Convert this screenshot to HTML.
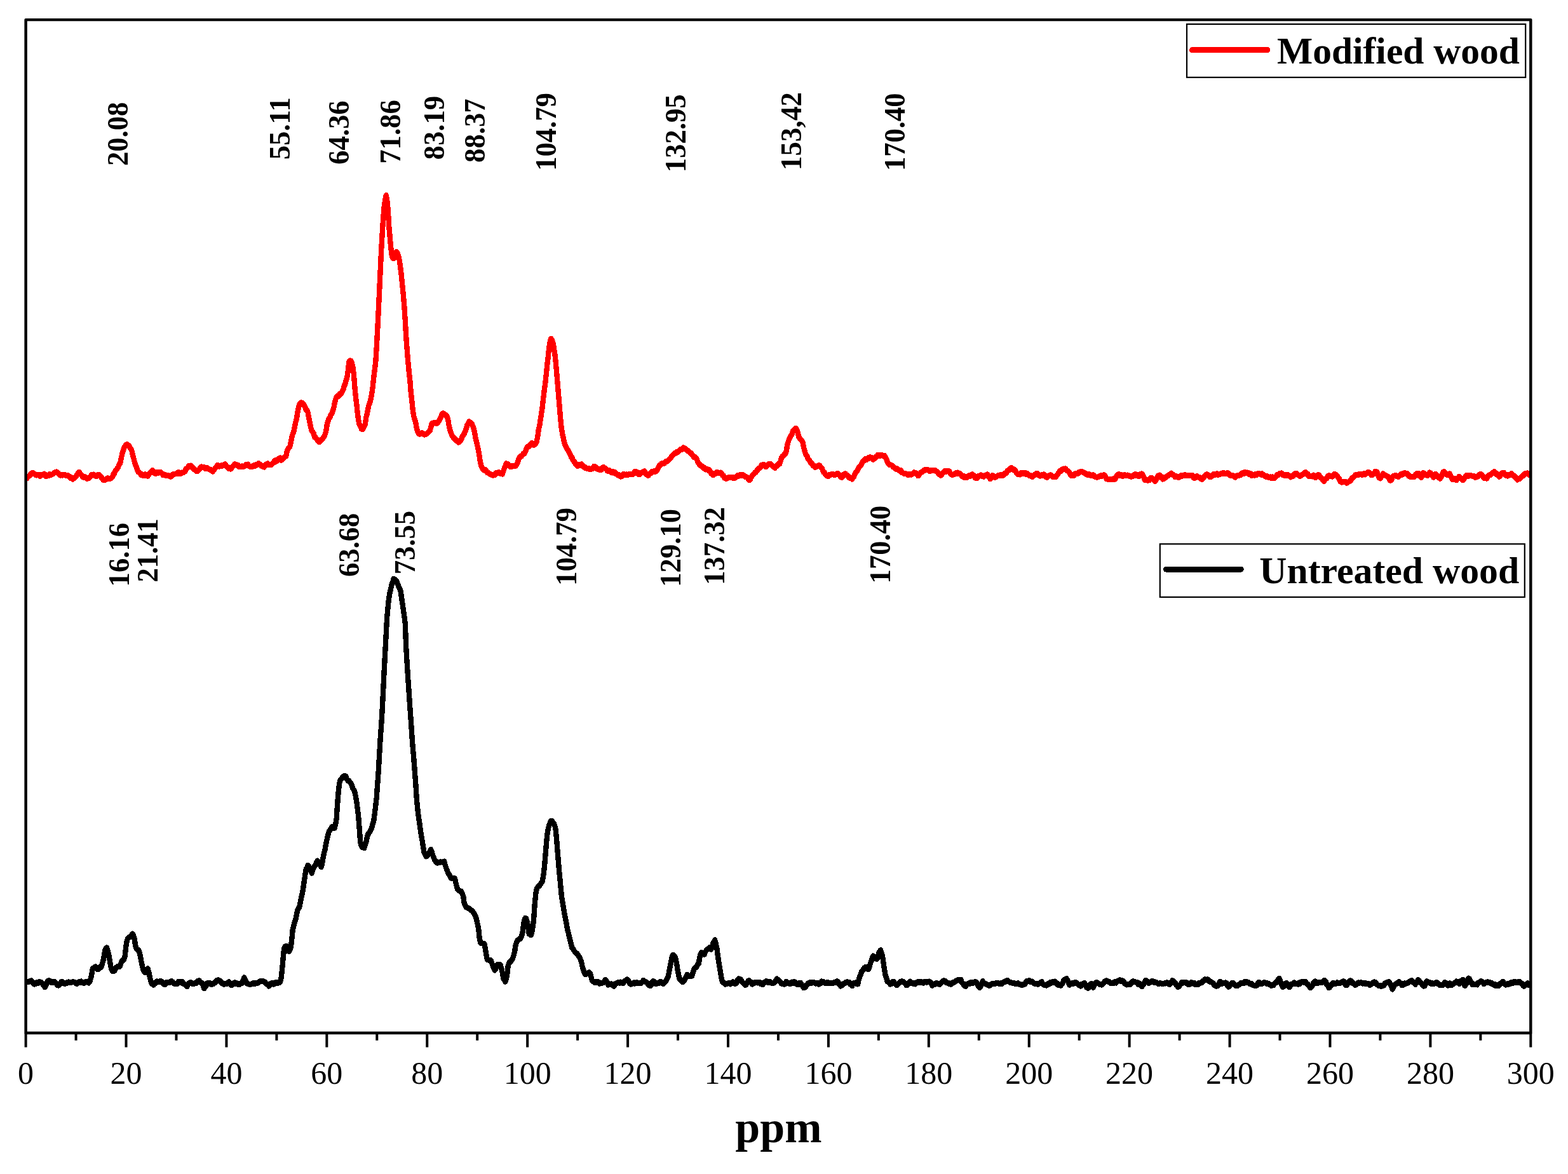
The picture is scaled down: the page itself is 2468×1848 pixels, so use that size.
<!DOCTYPE html>
<html lang="en"><head><meta charset="utf-8"><title>13C NMR spectra - modified vs untreated wood</title>
<style>
html,body{margin:0;padding:0;background:#fff;}
body{width:2468px;height:1848px;overflow:hidden;}
svg{display:block;}
.tick{font-family:"Liberation Serif","DejaVu Serif",serif;font-size:50px;fill:#000;text-anchor:middle;}
.pk{font-family:"Liberation Serif","DejaVu Serif",serif;font-weight:bold;font-size:46.5px;fill:#000;}
.lg{font-family:"Liberation Serif","DejaVu Serif",serif;font-weight:bold;font-size:59.5px;fill:#000;}
.xl{font-family:"Liberation Serif","DejaVu Serif",serif;font-weight:bold;font-size:70px;fill:#000;text-anchor:middle;}
.curve{shape-rendering:crispEdges;fill:none;stroke-width:9.0;stroke-linejoin:round;stroke-linecap:round;}
.ax{stroke:#000;stroke-width:4.45;fill:none;stroke-linejoin:round;}
.tk{stroke:#000;stroke-width:4;fill:none;}
</style></head><body>
<svg width="2468" height="1848" viewBox="0 0 2468 1848">
<rect x="0" y="0" width="2468" height="1848" fill="#fff"/>
<defs><clipPath id="plot"><rect x="40.6" y="31.1" width="2368.7" height="1594.9"/></clipPath></defs>
<g clip-path="url(#plot)"><g transform="scale(0.930 1)">
<polyline class="curve" stroke="#ff0000" points="43.8,753.0 45.4,753.1 47.1,750.6 48.7,749.6 50.3,748.7 51.9,746.2 53.5,745.0 55.1,744.2 56.7,745.2 58.3,746.2 60.0,747.2 61.6,748.1 63.2,747.6 64.8,747.3 66.4,748.2 68.0,749.6 69.6,747.2 71.2,747.0 72.9,747.5 74.5,745.9 76.1,748.3 77.7,749.9 79.3,748.0 80.9,748.4 82.5,748.9 84.2,746.6 85.8,747.0 87.4,747.1 89.0,746.4 90.6,745.3 92.2,743.9 93.8,743.8 95.4,742.9 97.1,743.8 98.7,744.7 100.3,747.1 101.9,748.1 103.5,747.3 105.1,748.1 106.7,747.5 108.3,748.0 110.0,747.8 111.6,748.7 113.2,748.1 114.8,748.4 116.4,749.9 118.0,750.2 119.6,752.5 121.2,751.9 122.9,754.2 124.5,753.3 126.1,751.9 127.7,750.8 129.3,748.8 130.9,746.8 132.5,744.2 134.2,743.2 135.8,745.7 137.4,747.0 139.0,749.2 140.6,751.3 142.2,751.5 143.8,750.8 145.4,752.2 147.1,753.5 148.7,752.6 150.3,753.0 151.9,751.3 153.5,749.4 155.1,747.1 156.7,747.9 158.3,747.0 160.0,748.3 161.6,749.3 163.2,749.6 164.8,748.4 166.4,747.1 168.0,747.7 169.6,749.3 171.2,751.2 172.9,752.9 174.5,755.3 176.1,755.7 177.7,755.7 179.3,754.7 180.9,753.2 182.5,752.8 184.2,753.3 185.8,753.4 187.4,752.7 189.0,751.8 190.6,750.0 192.2,745.4 193.8,744.9 195.4,740.9 197.1,738.9 198.7,737.3 200.3,734.6 201.9,730.7 203.5,729.1 205.1,721.4 206.7,714.9 208.3,709.4 210.0,705.1 211.6,702.5 213.2,700.1 214.8,699.4 216.4,700.8 218.0,700.8 219.6,703.9 221.2,706.2 222.9,709.2 224.5,715.5 226.1,721.1 227.7,726.9 229.3,732.2 230.9,735.3 232.5,740.1 234.2,743.2 235.8,743.6 237.4,745.3 239.0,747.4 240.6,746.9 242.2,748.5 243.8,748.7 245.4,746.8 247.1,748.1 248.7,748.8 250.3,749.3 251.9,747.0 253.5,744.6 255.1,743.8 256.7,741.8 258.3,740.5 260.0,742.4 261.6,744.5 263.2,745.7 264.8,743.7 266.4,744.4 268.0,744.3 269.6,743.3 271.2,743.1 272.9,744.0 274.5,745.8 276.1,748.0 277.7,746.8 279.3,747.3 280.9,748.6 282.5,748.2 284.2,748.7 285.8,748.6 287.4,750.0 289.0,750.2 290.6,748.7 292.2,747.0 293.8,746.4 295.4,746.1 297.1,746.0 298.7,745.8 300.3,744.1 301.9,743.6 303.5,745.7 305.1,745.6 306.7,744.0 308.3,744.2 310.0,743.8 311.6,742.5 313.2,741.8 314.8,738.2 316.4,737.1 318.0,735.4 319.6,733.5 321.2,734.2 322.9,732.9 324.5,735.6 326.1,735.6 327.7,737.8 329.3,739.3 330.9,740.1 332.5,742.0 334.2,741.6 335.8,739.6 337.4,739.0 339.0,736.1 340.6,734.9 342.2,735.3 343.8,735.6 345.4,735.5 347.1,737.5 348.7,737.6 350.3,736.4 351.9,737.7 353.5,738.1 355.1,739.3 356.7,739.5 358.3,740.7 360.0,742.2 361.6,739.9 363.2,738.4 364.8,736.0 366.4,734.5 368.0,732.1 369.6,733.7 371.2,734.2 372.9,733.4 374.5,732.6 376.1,733.1 377.7,732.8 379.3,732.2 380.9,730.6 382.5,733.1 384.2,734.8 385.8,735.5 387.4,737.7 389.0,737.2 390.6,738.1 392.2,736.1 393.8,733.9 395.4,732.7 397.1,730.7 398.7,731.4 400.3,731.7 401.9,733.1 403.5,732.4 405.1,734.9 406.7,734.3 408.3,734.7 410.0,733.8 411.6,734.6 413.2,734.2 414.8,733.1 416.4,731.5 418.0,732.2 419.6,730.9 421.2,733.6 422.9,734.2 424.5,734.4 426.1,734.6 427.7,734.3 429.3,732.8 430.9,733.5 432.5,731.8 434.2,732.3 435.8,731.5 437.4,729.3 439.0,730.7 440.6,730.9 442.2,733.2 443.8,733.8 445.4,734.6 447.1,735.2 448.7,731.8 450.3,731.6 451.9,730.1 453.5,729.8 455.1,731.9 456.7,731.5 458.3,732.0 460.0,730.9 461.6,728.9 463.2,728.5 464.8,725.3 466.4,724.7 468.0,726.0 469.6,724.3 471.2,722.4 472.9,721.8 474.5,720.9 476.1,724.3 477.7,723.6 479.3,722.1 480.9,720.5 482.5,718.8 484.2,718.0 485.8,710.0 487.4,706.5 489.0,704.8 490.6,703.1 492.2,696.5 493.8,688.2 495.4,683.1 497.1,679.7 498.7,671.7 500.3,664.6 501.9,660.0 503.5,650.0 505.1,642.6 506.7,637.1 508.3,634.7 510.0,633.8 511.6,634.6 513.2,635.6 514.8,637.6 516.4,640.7 518.0,645.5 519.6,645.4 521.2,649.7 522.9,658.7 524.5,665.9 526.1,673.4 527.7,678.2 529.3,680.0 530.9,682.1 532.5,688.3 534.2,688.7 535.8,691.0 537.4,692.8 539.0,695.0 540.6,695.9 542.2,694.3 543.8,692.2 545.4,691.5 547.1,689.2 548.7,686.7 550.3,683.4 551.9,678.5 553.5,668.4 555.1,662.8 556.7,659.4 558.3,657.1 560.0,652.7 561.6,650.8 563.2,647.1 564.8,642.4 566.4,634.3 568.0,628.7 569.6,624.8 571.2,623.2 572.9,623.5 574.5,620.6 576.1,621.1 577.7,619.3 579.3,615.4 580.9,613.6 582.5,607.4 584.2,604.7 585.8,598.4 587.4,593.9 589.0,583.3 590.6,569.9 592.2,567.9 593.8,568.2 595.4,570.5 597.1,577.6 598.7,588.2 600.3,607.8 601.9,623.8 603.5,635.7 605.1,650.2 606.7,661.1 608.3,668.2 610.0,670.9 611.6,674.8 613.2,675.9 614.8,674.4 616.4,670.3 618.0,668.5 619.6,657.1 621.2,651.5 622.9,643.7 624.5,636.6 626.1,633.6 627.7,627.8 629.3,619.0 630.9,608.7 632.5,594.4 634.2,581.8 635.8,569.1 637.4,545.9 639.0,518.1 640.6,487.7 642.2,456.4 643.8,423.8 645.4,392.7 647.1,365.5 648.7,341.7 650.3,324.1 651.9,314.5 653.5,307.3 655.1,315.7 656.7,330.0 658.3,355.8 660.0,374.0 661.6,390.3 663.2,402.2 664.8,406.2 666.4,406.7 668.0,402.2 669.6,400.0 671.2,396.3 672.9,399.0 674.5,403.4 676.1,410.3 677.7,420.9 679.3,433.2 680.9,448.7 682.5,463.3 684.2,482.3 685.8,504.5 687.4,530.8 689.0,551.3 690.6,569.7 692.2,584.9 693.8,598.1 695.4,616.9 697.1,631.0 698.7,646.3 700.3,655.2 701.9,660.0 703.5,665.2 705.1,673.8 706.7,678.8 708.3,682.1 710.0,683.4 711.6,682.4 713.2,681.7 714.8,681.7 716.4,682.5 718.0,684.1 719.6,683.0 721.2,683.1 722.9,682.4 724.5,680.9 726.1,679.5 727.7,677.6 729.3,672.6 730.9,666.5 732.5,667.2 734.2,665.4 735.8,665.5 737.4,665.8 739.0,666.6 740.6,665.3 742.2,663.6 743.8,661.3 745.4,658.3 747.1,654.2 748.7,650.9 750.3,650.7 751.9,651.9 753.5,652.6 755.1,654.7 756.7,655.4 758.3,661.1 760.0,670.7 761.6,677.1 763.2,680.8 764.8,685.0 766.4,687.2 768.0,689.4 769.6,690.6 771.2,692.2 772.9,693.8 774.5,694.2 776.1,696.4 777.7,695.5 779.3,694.1 780.9,691.3 782.5,687.2 784.2,685.2 785.8,682.5 787.4,678.7 789.0,675.3 790.6,669.4 792.2,667.0 793.8,663.7 795.4,664.9 797.1,665.9 798.7,667.1 800.3,670.9 801.9,675.2 803.5,682.4 805.1,690.8 806.7,696.4 808.3,702.9 810.0,710.1 811.6,719.6 813.2,728.7 814.8,734.6 816.4,737.0 818.0,739.7 819.6,740.2 821.2,739.4 822.9,740.8 824.5,743.8 826.1,744.2 827.7,744.9 829.3,746.4 830.9,746.9 832.5,747.9 834.2,748.1 835.8,747.3 837.4,747.5 839.0,744.7 840.6,744.7 842.2,745.0 843.8,743.5 845.4,744.9 847.1,745.6 848.7,745.2 850.3,746.2 851.9,741.7 853.5,737.3 855.1,733.6 856.7,729.6 858.3,730.5 860.0,730.7 861.6,733.3 863.2,734.4 864.8,734.8 866.4,733.4 868.0,733.6 869.6,733.2 871.2,733.9 872.9,733.1 874.5,730.8 876.1,728.2 877.7,723.3 879.3,719.6 880.9,718.1 882.5,718.3 884.2,716.2 885.8,714.0 887.4,714.1 889.0,711.4 890.6,707.0 892.2,703.9 893.8,703.0 895.4,702.7 897.1,700.5 898.7,699.5 900.3,697.6 901.9,698.6 903.5,700.4 905.1,699.9 906.7,697.8 908.3,695.0 910.0,687.3 911.6,676.1 913.2,669.6 914.8,660.4 916.4,650.6 918.0,640.4 919.6,626.9 921.2,614.5 922.9,602.5 924.5,588.9 926.1,574.2 927.7,562.2 929.3,546.4 930.9,538.5 932.5,533.2 934.2,535.6 935.8,539.1 937.4,547.4 939.0,557.3 940.6,570.5 942.2,587.4 943.8,604.8 945.4,622.8 947.1,641.8 948.7,660.0 950.3,674.3 951.9,683.1 953.5,689.5 955.1,696.9 956.7,701.3 958.3,703.9 960.0,707.1 961.6,709.0 963.2,712.2 964.8,714.7 966.4,718.7 968.0,719.9 969.6,724.5 971.2,726.1 972.9,727.8 974.5,731.0 976.1,732.2 977.7,733.5 979.3,731.7 980.9,732.6 982.5,732.0 984.2,730.8 985.8,732.7 987.4,734.8 989.0,734.7 990.6,736.8 992.2,736.9 993.8,737.8 995.4,737.5 997.1,738.3 998.7,738.0 1000.3,738.2 1001.9,738.0 1003.5,737.3 1005.1,734.2 1006.7,734.4 1008.3,735.3 1010.0,737.2 1011.6,738.8 1013.2,738.1 1014.8,739.4 1016.4,739.4 1018.0,739.3 1019.6,736.8 1021.2,735.5 1022.9,736.7 1024.5,737.6 1026.1,738.9 1027.7,741.1 1029.3,741.5 1030.9,740.6 1032.5,742.3 1034.2,743.3 1035.8,744.0 1037.4,742.1 1039.0,744.5 1040.6,743.3 1042.2,745.6 1043.8,746.2 1045.4,747.9 1047.1,748.2 1048.7,747.9 1050.3,750.2 1051.9,748.9 1053.5,749.2 1055.1,746.3 1056.7,746.8 1058.3,747.9 1060.0,746.9 1061.6,748.0 1063.2,747.3 1064.8,746.5 1066.4,747.0 1068.0,746.7 1069.6,746.7 1071.2,746.6 1072.9,745.1 1074.5,742.4 1076.1,743.6 1077.7,742.8 1079.3,743.7 1080.9,746.6 1082.5,747.0 1084.2,744.8 1085.8,743.9 1087.4,743.9 1089.0,742.4 1090.6,741.8 1092.2,743.9 1093.8,746.9 1095.4,746.5 1097.1,748.7 1098.7,746.8 1100.3,744.8 1101.9,745.1 1103.5,742.4 1105.1,742.4 1106.7,742.3 1108.3,741.1 1110.0,742.1 1111.6,741.1 1113.2,737.8 1114.8,735.2 1116.4,732.4 1118.0,731.6 1119.6,729.8 1121.2,729.9 1122.9,729.9 1124.5,729.3 1126.1,726.8 1127.7,726.6 1129.3,726.0 1130.9,724.7 1132.5,723.1 1134.2,721.4 1135.8,720.3 1137.4,717.5 1139.0,716.1 1140.6,715.0 1142.2,713.3 1143.8,713.3 1145.4,711.6 1147.1,711.8 1148.7,710.6 1150.3,708.4 1151.9,707.5 1153.5,708.0 1155.1,706.7 1156.7,704.8 1158.3,706.0 1160.0,706.2 1161.6,708.0 1163.2,708.9 1164.8,710.3 1166.4,710.9 1168.0,712.7 1169.6,713.5 1171.2,716.0 1172.9,717.2 1174.5,720.0 1176.1,719.1 1177.7,720.9 1179.3,722.8 1180.9,727.0 1182.5,729.6 1184.2,731.3 1185.8,733.0 1187.4,733.3 1189.0,734.9 1190.6,736.7 1192.2,736.3 1193.8,739.1 1195.4,738.7 1197.1,738.7 1198.7,740.6 1200.3,739.6 1201.9,741.7 1203.5,745.2 1205.1,745.5 1206.7,747.9 1208.3,745.6 1210.0,745.9 1211.6,745.3 1213.2,743.5 1214.8,743.7 1216.4,744.4 1218.0,744.8 1219.6,744.0 1221.2,745.0 1222.9,748.3 1224.5,748.9 1226.1,752.3 1227.7,752.8 1229.3,753.6 1230.9,752.6 1232.5,751.7 1234.2,751.0 1235.8,751.2 1237.4,751.3 1239.0,751.9 1240.6,752.4 1242.2,751.4 1243.8,752.4 1245.4,750.9 1247.1,749.5 1248.7,748.4 1250.3,749.1 1251.9,748.4 1253.5,747.1 1255.1,748.4 1256.7,747.3 1258.3,748.2 1260.0,749.3 1261.6,750.7 1263.2,750.7 1264.8,751.8 1266.4,754.2 1268.0,755.8 1269.6,754.7 1271.2,751.2 1272.9,749.0 1274.5,746.9 1276.1,745.9 1277.7,743.7 1279.3,743.5 1280.9,740.9 1282.5,739.2 1284.2,737.5 1285.8,736.5 1287.4,734.9 1289.0,732.2 1290.6,731.7 1292.2,731.3 1293.8,733.3 1295.4,734.3 1297.1,734.4 1298.7,732.2 1300.3,731.5 1301.9,730.1 1303.5,730.2 1305.1,731.6 1306.7,732.3 1308.3,734.6 1310.0,735.2 1311.6,736.3 1313.2,734.2 1314.8,733.7 1316.4,731.3 1318.0,729.6 1319.6,730.1 1321.2,725.2 1322.9,720.4 1324.5,718.2 1326.1,717.1 1327.7,715.1 1329.3,713.9 1330.9,710.2 1332.5,700.4 1334.2,694.9 1335.8,690.7 1337.4,687.6 1339.0,685.1 1340.6,683.1 1342.2,678.2 1343.8,677.7 1345.4,675.3 1347.1,674.2 1348.7,676.8 1350.3,681.3 1351.9,687.6 1353.5,690.2 1355.1,691.6 1356.7,693.6 1358.3,695.3 1360.0,703.2 1361.6,709.1 1363.2,713.7 1364.8,716.7 1366.4,719.1 1368.0,723.1 1369.6,724.0 1371.2,727.4 1372.9,728.5 1374.5,730.3 1376.1,732.9 1377.7,733.1 1379.3,735.3 1380.9,735.1 1382.5,733.9 1384.2,733.4 1385.8,732.3 1387.4,733.3 1389.0,735.5 1390.6,736.4 1392.2,739.5 1393.8,743.1 1395.4,743.6 1397.1,746.8 1398.7,748.4 1400.3,749.1 1401.9,749.5 1403.5,747.2 1405.1,747.3 1406.7,747.0 1408.3,746.2 1410.0,746.8 1411.6,747.7 1413.2,747.5 1414.8,746.5 1416.4,746.7 1418.0,745.0 1419.6,746.8 1421.2,748.4 1422.9,750.3 1424.5,751.7 1426.1,750.6 1427.7,747.3 1429.3,746.1 1430.9,745.7 1432.5,747.9 1434.2,748.0 1435.8,750.1 1437.4,752.0 1439.0,751.4 1440.6,752.8 1442.2,754.0 1443.8,752.0 1445.4,749.9 1447.1,745.8 1448.7,743.4 1450.3,741.9 1451.9,738.7 1453.5,735.9 1455.1,734.1 1456.7,732.5 1458.3,730.5 1460.0,727.0 1461.6,724.9 1463.2,724.8 1464.8,722.3 1466.4,723.6 1468.0,721.7 1469.6,720.8 1471.2,721.3 1472.9,719.7 1474.5,720.2 1476.1,721.4 1477.7,723.2 1479.3,721.9 1480.9,721.4 1482.5,719.2 1484.2,718.4 1485.8,716.1 1487.4,717.5 1489.0,717.9 1490.6,716.4 1492.2,716.5 1493.8,717.1 1495.4,717.9 1497.1,717.3 1498.7,720.1 1500.3,723.0 1501.9,727.3 1503.5,729.5 1505.1,731.5 1506.7,731.8 1508.3,731.9 1510.0,733.1 1511.6,734.8 1513.2,735.7 1514.8,737.4 1516.4,738.1 1518.0,737.8 1519.6,738.8 1521.2,740.3 1522.9,740.1 1524.5,740.5 1526.1,743.7 1527.7,744.0 1529.3,745.0 1530.9,746.0 1532.5,745.8 1534.2,745.9 1535.8,747.1 1537.4,747.6 1539.0,746.9 1540.6,746.4 1542.2,747.2 1543.8,746.2 1545.4,745.2 1547.1,743.8 1548.7,745.0 1550.3,744.9 1551.9,745.9 1553.5,748.7 1555.1,748.3 1556.7,745.7 1558.3,743.8 1560.0,743.2 1561.6,742.6 1563.2,740.4 1564.8,740.4 1566.4,739.1 1568.0,739.8 1569.6,739.3 1571.2,739.8 1572.9,741.3 1574.5,741.7 1576.1,740.6 1577.7,740.4 1579.3,741.0 1580.9,740.2 1582.5,740.5 1584.2,742.0 1585.8,742.1 1587.4,744.1 1589.0,746.6 1590.6,746.0 1592.2,748.3 1593.8,746.8 1595.4,745.1 1597.1,743.1 1598.7,741.7 1600.3,741.7 1601.9,742.4 1603.5,741.3 1605.1,742.0 1606.7,741.8 1608.3,744.8 1610.0,746.5 1611.6,747.6 1613.2,747.2 1614.8,746.6 1616.4,745.4 1618.0,744.5 1619.6,745.3 1621.2,744.0 1622.9,745.4 1624.5,745.4 1626.1,746.7 1627.7,749.1 1629.3,750.3 1630.9,749.1 1632.5,751.6 1634.2,751.8 1635.8,750.4 1637.4,751.1 1639.0,749.5 1640.6,748.7 1642.2,749.4 1643.8,748.2 1645.4,746.7 1647.1,749.2 1648.7,748.7 1650.3,752.0 1651.9,752.3 1653.5,752.7 1655.1,750.2 1656.7,749.3 1658.3,749.2 1660.0,747.9 1661.6,749.4 1663.2,749.2 1664.8,750.4 1666.4,748.8 1668.0,748.0 1669.6,747.6 1671.2,746.8 1672.9,750.1 1674.5,750.6 1676.1,753.9 1677.7,751.3 1679.3,748.3 1680.9,749.1 1682.5,751.2 1684.2,751.3 1685.8,750.8 1687.4,749.6 1689.0,748.7 1690.6,748.5 1692.2,748.5 1693.8,747.5 1695.4,747.2 1697.1,748.6 1698.7,747.5 1700.3,745.4 1701.9,744.9 1703.5,744.4 1705.1,741.1 1706.7,740.2 1708.3,740.1 1710.0,737.2 1711.6,736.4 1713.2,737.3 1714.8,739.7 1716.4,739.3 1718.0,740.3 1719.6,743.1 1721.2,745.2 1722.9,746.8 1724.5,746.3 1726.1,747.0 1727.7,744.7 1729.3,745.0 1730.9,744.9 1732.5,745.4 1734.2,744.7 1735.8,744.7 1737.4,746.9 1739.0,745.7 1740.6,747.0 1742.2,748.9 1743.8,748.4 1745.4,749.4 1747.1,750.6 1748.7,749.2 1750.3,747.7 1751.9,747.6 1753.5,745.7 1755.1,745.2 1756.7,746.5 1758.3,748.3 1760.0,749.2 1761.6,748.9 1763.2,747.6 1764.8,748.5 1766.4,746.8 1768.0,749.0 1769.6,748.6 1771.2,751.4 1772.9,751.1 1774.5,749.5 1776.1,748.3 1777.7,747.7 1779.3,748.4 1780.9,749.3 1782.5,750.8 1784.2,750.5 1785.8,751.0 1787.4,750.1 1789.0,747.4 1790.6,746.5 1792.2,743.5 1793.8,741.6 1795.4,741.8 1797.1,739.5 1798.7,738.7 1800.3,738.0 1801.9,738.3 1803.5,737.8 1805.1,740.5 1806.7,741.0 1808.3,742.0 1810.0,744.0 1811.6,747.4 1813.2,748.9 1814.8,747.9 1816.4,747.2 1818.0,748.3 1819.6,745.6 1821.2,745.3 1822.9,745.9 1824.5,745.4 1826.1,743.3 1827.7,743.0 1829.3,742.2 1830.9,742.4 1832.5,743.1 1834.2,744.0 1835.8,745.0 1837.4,746.1 1839.0,745.8 1840.6,747.7 1842.2,747.1 1843.8,746.7 1845.4,748.3 1847.1,748.9 1848.7,748.2 1850.3,747.7 1851.9,749.7 1853.5,750.3 1855.1,751.0 1856.7,751.0 1858.3,751.0 1860.0,750.0 1861.6,749.3 1863.2,748.4 1864.8,749.7 1866.4,748.6 1868.0,747.6 1869.6,748.5 1871.2,750.8 1872.9,753.9 1874.5,754.3 1876.1,754.1 1877.7,754.6 1879.3,754.3 1880.9,754.9 1882.5,754.2 1884.2,753.7 1885.8,754.6 1887.4,753.9 1889.0,750.5 1890.6,748.7 1892.2,747.3 1893.8,746.5 1895.4,748.4 1897.1,748.6 1898.7,747.7 1900.3,749.4 1901.9,748.5 1903.5,747.5 1905.1,748.2 1906.7,748.1 1908.3,748.0 1910.0,748.7 1911.6,749.5 1913.2,749.3 1914.8,750.3 1916.4,749.2 1918.0,749.2 1919.6,747.6 1921.2,746.6 1922.9,748.5 1924.5,747.3 1926.1,748.2 1927.7,750.0 1929.3,748.4 1930.9,746.3 1932.5,745.9 1934.2,747.6 1935.8,751.5 1937.4,755.3 1939.0,754.3 1940.6,755.7 1942.2,756.3 1943.8,756.0 1945.4,755.8 1947.1,752.6 1948.7,752.2 1950.3,753.4 1951.9,754.8 1953.5,755.9 1955.1,757.6 1956.7,755.4 1958.3,752.5 1960.0,748.9 1961.6,748.5 1963.2,748.0 1964.8,751.4 1966.4,750.7 1968.0,754.2 1969.6,753.8 1971.2,751.6 1972.9,751.7 1974.5,750.4 1976.1,749.1 1977.7,748.1 1979.3,747.1 1980.9,746.4 1982.5,744.9 1984.2,747.4 1985.8,747.6 1987.4,748.4 1989.0,750.9 1990.6,749.6 1992.2,750.3 1993.8,751.1 1995.4,751.3 1997.1,749.7 1998.7,748.5 2000.3,749.3 2001.9,748.8 2003.5,748.7 2005.1,747.5 2006.7,748.8 2008.3,748.7 2010.0,748.9 2011.6,748.7 2013.2,748.5 2014.8,748.2 2016.4,748.9 2018.0,748.6 2019.6,751.1 2021.2,752.6 2022.9,752.0 2024.5,749.8 2026.1,749.6 2027.7,750.9 2029.3,751.7 2030.9,751.6 2032.5,753.6 2034.2,754.5 2035.8,753.6 2037.4,751.5 2039.0,749.2 2040.6,748.2 2042.2,746.7 2043.8,747.0 2045.4,747.9 2047.1,750.7 2048.7,750.9 2050.3,749.1 2051.9,748.9 2053.5,746.4 2055.1,746.4 2056.7,747.2 2058.3,746.8 2060.0,745.7 2061.6,747.4 2063.2,746.6 2064.8,746.4 2066.4,745.6 2068.0,745.9 2069.6,744.4 2071.2,744.7 2072.9,745.5 2074.5,745.5 2076.1,745.5 2077.7,744.5 2079.3,745.3 2080.9,747.5 2082.5,748.3 2084.2,748.9 2085.8,748.1 2087.4,748.9 2089.0,750.0 2090.6,751.2 2092.2,749.2 2093.8,748.7 2095.4,748.2 2097.1,748.7 2098.7,747.6 2100.3,747.7 2101.9,745.1 2103.5,744.4 2105.1,745.6 2106.7,743.2 2108.3,744.1 2110.0,744.2 2111.6,744.0 2113.2,744.9 2114.8,746.8 2116.4,745.7 2118.0,748.6 2119.6,747.0 2121.2,747.6 2122.9,748.3 2124.5,746.5 2126.1,748.0 2127.7,746.2 2129.3,745.2 2130.9,745.4 2132.5,746.3 2134.2,747.1 2135.8,745.8 2137.4,746.9 2139.0,748.3 2140.6,749.5 2142.2,750.3 2143.8,749.6 2145.4,750.0 2147.1,751.5 2148.7,751.9 2150.3,750.9 2151.9,752.6 2153.5,750.8 2155.1,752.5 2156.7,752.6 2158.3,750.9 2160.0,750.0 2161.6,747.2 2163.2,747.8 2164.8,746.2 2166.4,745.0 2168.0,745.0 2169.6,744.9 2171.2,747.6 2172.9,747.8 2174.5,748.8 2176.1,747.6 2177.7,748.6 2179.3,747.5 2180.9,749.0 2182.5,749.1 2184.2,751.0 2185.8,750.3 2187.4,749.5 2189.0,749.3 2190.6,745.9 2192.2,746.2 2193.8,745.2 2195.4,746.9 2197.1,747.7 2198.7,748.3 2200.3,749.5 2201.9,748.3 2203.5,747.1 2205.1,746.9 2206.7,744.9 2208.3,745.7 2210.0,743.5 2211.6,746.5 2213.2,746.0 2214.8,749.5 2216.4,748.9 2218.0,749.9 2219.6,749.5 2221.2,750.0 2222.9,747.9 2224.5,749.2 2226.1,751.8 2227.7,749.7 2229.3,748.6 2230.9,747.5 2232.5,748.2 2234.2,751.5 2235.8,751.8 2237.4,753.3 2239.0,755.8 2240.6,757.5 2242.2,755.6 2243.8,753.4 2245.4,753.2 2247.1,749.8 2248.7,748.6 2250.3,748.7 2251.9,749.9 2253.5,749.3 2255.1,750.1 2256.7,748.6 2258.3,746.5 2260.0,746.6 2261.6,747.9 2263.2,749.3 2264.8,751.4 2266.4,753.2 2268.0,757.3 2269.6,758.7 2271.2,759.1 2272.9,758.6 2274.5,758.1 2276.1,758.0 2277.7,758.9 2279.3,760.4 2280.9,759.3 2282.5,758.4 2284.2,757.4 2285.8,756.7 2287.4,753.8 2289.0,752.2 2290.6,751.3 2292.2,749.5 2293.8,747.9 2295.4,747.1 2297.1,747.4 2298.7,746.8 2300.3,747.1 2301.9,746.8 2303.5,746.7 2305.1,747.6 2306.7,747.2 2308.3,745.5 2310.0,746.9 2311.6,745.4 2313.2,745.1 2314.8,743.4 2316.4,744.9 2318.0,744.0 2319.6,745.9 2321.2,747.8 2322.9,747.2 2324.5,746.1 2326.1,745.6 2327.7,742.1 2329.3,742.5 2330.9,743.3 2332.5,748.4 2334.2,752.1 2335.8,753.0 2337.4,751.2 2339.0,748.9 2340.6,745.6 2342.2,746.7 2343.8,747.8 2345.4,748.5 2347.1,749.5 2348.7,750.3 2350.3,751.6 2351.9,755.5 2353.5,756.3 2355.1,755.7 2356.7,751.3 2358.3,749.2 2360.0,749.0 2361.6,748.3 2363.2,749.3 2364.8,749.4 2366.4,750.6 2368.0,749.2 2369.6,747.7 2371.2,746.3 2372.9,747.1 2374.5,745.2 2376.1,746.0 2377.7,744.3 2379.3,745.4 2380.9,745.0 2382.5,745.9 2384.2,749.4 2385.8,749.0 2387.4,750.8 2389.0,750.1 2390.6,750.0 2392.2,750.0 2393.8,750.5 2395.4,747.4 2397.1,747.8 2398.7,745.0 2400.3,745.1 2401.9,749.2 2403.5,749.5 2405.1,751.5 2406.7,749.2 2408.3,744.5 2410.0,745.1 2411.6,746.3 2413.2,748.0 2414.8,747.9 2416.4,748.4 2418.0,747.2 2419.6,743.8 2421.2,744.7 2422.9,747.5 2424.5,749.1 2426.1,751.3 2427.7,749.9 2429.3,746.4 2430.9,746.9 2432.5,749.3 2434.2,751.3 2435.8,752.0 2437.4,753.4 2439.0,750.8 2440.6,746.9 2442.2,743.8 2443.8,742.4 2445.4,743.6 2447.1,745.8 2448.7,747.2 2450.3,747.0 2451.9,747.2 2453.5,745.6 2455.1,748.5 2456.7,752.3 2458.3,754.4 2460.0,753.4 2461.6,754.9 2463.2,753.7 2464.8,755.9 2466.4,753.0 2468.0,752.1 2469.6,750.3 2471.2,751.6 2472.9,752.7 2474.5,754.9 2476.1,755.7 2477.7,754.4 2479.3,751.4 2480.9,749.4 2482.5,748.2 2484.2,748.6 2485.8,749.4 2487.4,748.5 2489.0,748.7 2490.6,749.0 2492.2,749.0 2493.8,749.2 2495.4,749.8 2497.1,751.5 2498.7,751.0 2500.3,750.6 2501.9,749.5 2503.5,747.7 2505.1,746.5 2506.7,746.5 2508.3,747.8 2510.0,750.1 2511.6,752.7 2513.2,753.0 2514.8,752.4 2516.4,753.2 2518.0,750.2 2519.6,748.0 2521.2,747.8 2522.9,747.3 2524.5,745.8 2526.1,744.1 2527.7,744.2 2529.3,742.5 2530.9,745.0 2532.5,746.8 2534.2,746.0 2535.8,748.5 2537.4,750.2 2539.0,749.1 2540.6,746.5 2542.2,744.7 2543.8,744.4 2545.4,744.3 2547.1,747.6 2548.7,748.2 2550.3,748.4 2551.9,749.1 2553.5,747.2 2555.1,747.3 2556.7,746.7 2558.3,745.3 2560.0,747.9 2561.6,749.0 2563.2,749.3 2564.8,751.4 2566.4,752.5 2568.0,755.1 2569.6,754.0 2571.2,753.8 2572.9,752.5 2574.5,751.6 2576.1,749.4 2577.7,749.3 2579.3,746.6 2580.9,746.4 2582.5,745.1 2584.2,745.0 2585.8,744.9 2587.4,746.8 2589.0,747.8"/>
<polyline class="curve" stroke="#000000" points="43.7,1545.8 45.4,1545.0 47.0,1545.6 48.6,1545.7 50.2,1544.6 51.8,1544.4 53.4,1543.8 55.0,1546.1 56.7,1548.5 58.3,1549.2 59.9,1548.6 61.5,1546.7 63.1,1548.0 64.7,1547.5 66.3,1545.4 67.9,1546.8 69.6,1546.1 71.2,1547.5 72.8,1549.8 74.4,1551.3 76.0,1553.8 77.6,1551.5 79.2,1547.3 80.8,1544.6 82.5,1543.6 84.1,1544.1 85.7,1546.2 87.3,1546.5 88.9,1545.5 90.5,1546.1 92.1,1545.5 93.7,1546.5 95.4,1548.4 97.0,1550.6 98.6,1551.2 100.2,1550.7 101.8,1549.0 103.4,1545.9 105.0,1545.1 106.7,1547.4 108.3,1546.9 109.9,1548.6 111.5,1547.9 113.1,1547.6 114.7,1546.1 116.3,1545.8 117.9,1546.7 119.6,1546.8 121.2,1546.4 122.8,1545.7 124.4,1545.9 126.0,1546.3 127.6,1547.0 129.2,1548.1 130.8,1548.3 132.5,1546.1 134.1,1545.4 135.7,1546.6 137.3,1545.0 138.9,1546.3 140.5,1546.9 142.1,1547.8 143.7,1546.6 145.4,1545.2 147.0,1545.1 148.6,1546.1 150.2,1547.1 151.8,1545.4 153.4,1540.6 155.0,1535.1 156.7,1525.2 158.3,1523.8 159.9,1522.7 161.5,1521.8 163.1,1524.3 164.7,1525.5 166.3,1525.6 167.9,1523.6 169.6,1522.2 171.2,1522.5 172.8,1517.6 174.4,1512.8 176.0,1505.3 177.6,1496.3 179.2,1493.1 180.8,1491.9 182.5,1497.1 184.1,1502.8 185.7,1511.8 187.3,1520.9 188.9,1526.3 190.5,1528.6 192.1,1528.8 193.7,1528.1 195.4,1524.5 197.0,1522.7 198.6,1521.7 200.2,1521.8 201.8,1521.5 203.4,1519.9 205.0,1515.6 206.7,1511.9 208.3,1512.2 209.9,1509.8 211.5,1505.2 213.1,1490.8 214.7,1481.4 216.3,1477.2 217.9,1475.9 219.6,1475.1 221.2,1474.2 222.8,1471.9 224.4,1469.9 226.0,1473.2 227.6,1477.9 229.2,1489.0 230.8,1492.5 232.5,1494.8 234.1,1495.0 235.7,1498.5 237.3,1504.5 238.9,1512.4 240.5,1519.6 242.1,1525.4 243.7,1529.0 245.4,1530.5 247.0,1530.1 248.6,1526.0 250.2,1524.8 251.8,1530.3 253.4,1537.2 255.0,1543.9 256.7,1547.7 258.3,1549.1 259.9,1550.4 261.5,1547.7 263.1,1547.8 264.7,1544.9 266.3,1545.0 267.9,1546.0 269.6,1544.9 271.2,1545.5 272.8,1544.8 274.4,1545.3 276.0,1548.0 277.6,1549.0 279.2,1549.9 280.8,1547.7 282.5,1546.1 284.1,1546.7 285.7,1546.5 287.3,1546.6 288.9,1545.1 290.5,1544.4 292.1,1545.8 293.7,1547.5 295.4,1548.6 297.0,1548.5 298.6,1548.8 300.2,1548.4 301.8,1545.3 303.4,1545.8 305.0,1546.3 306.7,1545.1 308.3,1545.3 309.9,1548.3 311.5,1548.7 313.1,1549.5 314.7,1551.2 316.3,1553.0 317.9,1550.2 319.6,1547.7 321.2,1547.5 322.8,1546.3 324.4,1547.7 326.0,1548.9 327.6,1548.1 329.2,1548.2 330.8,1546.9 332.5,1547.5 334.1,1544.4 335.7,1545.3 337.3,1543.7 338.9,1545.5 340.5,1547.0 342.1,1547.4 343.7,1550.4 345.4,1555.9 347.0,1553.1 348.6,1551.9 350.2,1548.0 351.8,1547.3 353.4,1548.3 355.0,1547.5 356.7,1548.9 358.3,1549.4 359.9,1548.2 361.5,1548.3 363.1,1547.0 364.7,1546.4 366.3,1543.8 367.9,1543.4 369.6,1542.6 371.2,1543.3 372.8,1544.7 374.4,1546.1 376.0,1548.2 377.6,1548.1 379.2,1549.3 380.8,1548.5 382.5,1548.4 384.1,1547.9 385.7,1548.1 387.3,1545.7 388.9,1547.9 390.5,1550.1 392.1,1550.9 393.7,1549.3 395.4,1548.7 397.0,1546.6 398.6,1548.1 400.2,1547.5 401.8,1548.5 403.4,1549.9 405.0,1549.5 406.7,1548.2 408.3,1548.0 409.9,1547.5 411.5,1543.3 413.1,1538.9 414.7,1541.8 416.3,1544.9 417.9,1548.0 419.6,1548.8 421.2,1548.9 422.8,1550.0 424.4,1549.2 426.0,1548.9 427.6,1548.3 429.2,1547.6 430.8,1548.8 432.5,1547.2 434.1,1547.9 435.7,1547.7 437.3,1546.6 438.9,1545.3 440.5,1544.7 442.1,1544.7 443.7,1544.1 445.4,1544.7 447.0,1545.2 448.6,1545.8 450.2,1548.0 451.8,1549.3 453.4,1549.3 455.0,1552.1 456.7,1550.6 458.3,1549.1 459.9,1547.4 461.5,1547.6 463.1,1549.5 464.7,1547.3 466.3,1546.7 467.9,1546.4 469.6,1547.8 471.2,1546.9 472.8,1546.9 474.4,1544.8 476.0,1538.8 477.6,1524.9 479.2,1508.1 480.8,1493.3 482.5,1490.3 484.1,1489.2 485.7,1490.2 487.3,1494.6 488.9,1497.7 490.5,1495.1 492.1,1491.4 493.7,1480.2 495.4,1463.4 497.0,1457.8 498.6,1452.0 500.2,1448.0 501.8,1440.6 503.4,1432.8 505.0,1430.1 506.7,1427.8 508.3,1420.1 509.9,1413.0 511.5,1406.5 513.1,1398.4 514.7,1387.9 516.3,1378.0 517.9,1368.3 519.6,1366.0 521.2,1362.2 522.8,1364.2 524.4,1368.6 526.0,1370.7 527.6,1374.3 529.2,1369.9 530.8,1365.7 532.5,1363.6 534.1,1360.9 535.7,1357.3 537.3,1355.0 538.9,1357.7 540.5,1358.9 542.1,1362.0 543.7,1364.7 545.4,1358.5 547.0,1349.0 548.6,1342.0 550.2,1336.7 551.8,1327.8 553.4,1321.3 555.0,1315.1 556.7,1309.3 558.3,1307.3 559.9,1304.8 561.5,1301.7 563.1,1302.6 564.7,1303.6 566.3,1303.4 567.9,1297.7 569.6,1287.8 571.2,1264.7 572.8,1245.6 574.4,1233.1 576.0,1227.5 577.6,1226.6 579.2,1224.2 580.8,1222.6 582.5,1221.7 584.1,1221.2 585.7,1222.7 587.3,1226.7 588.9,1229.0 590.5,1228.8 592.1,1231.5 593.7,1232.5 595.4,1236.3 597.0,1240.7 598.6,1243.1 600.2,1246.0 601.8,1252.8 603.4,1260.7 605.0,1272.8 606.7,1285.4 608.3,1304.8 609.9,1325.5 611.5,1331.5 613.1,1333.5 614.7,1332.8 616.3,1334.9 617.9,1329.8 619.6,1326.3 621.2,1318.8 622.8,1312.9 624.4,1311.5 626.0,1309.2 627.6,1305.7 629.2,1302.9 630.8,1296.9 632.5,1292.2 634.1,1280.7 635.7,1269.2 637.3,1255.9 638.9,1234.6 640.5,1214.9 642.1,1188.0 643.7,1162.9 645.4,1140.9 647.0,1116.0 648.6,1086.2 650.2,1055.6 651.8,1027.5 653.4,1000.0 655.0,971.9 656.7,954.7 658.3,940.9 659.9,932.7 661.5,926.4 663.1,919.3 664.7,916.2 666.3,911.3 667.9,911.8 669.6,914.1 671.2,914.6 672.8,918.7 674.4,922.4 676.0,925.4 677.6,928.8 679.2,937.9 680.8,948.4 682.5,958.4 684.1,969.5 685.7,980.6 687.3,1018.4 688.9,1043.8 690.5,1067.4 692.1,1088.9 693.7,1111.3 695.4,1133.5 697.0,1155.9 698.6,1175.9 700.2,1192.5 701.8,1212.4 703.4,1231.8 705.0,1255.6 706.7,1272.6 708.3,1285.0 709.9,1294.6 711.5,1305.8 713.1,1315.6 714.7,1323.8 716.3,1333.8 717.9,1342.1 719.6,1345.2 721.2,1348.0 722.8,1347.7 724.4,1345.7 726.0,1343.3 727.6,1340.4 729.2,1337.1 730.8,1341.1 732.5,1346.2 734.1,1349.9 735.7,1353.8 737.3,1355.7 738.9,1358.0 740.5,1358.3 742.1,1357.8 743.7,1357.7 745.4,1356.6 747.0,1357.0 748.6,1357.2 750.2,1357.2 751.8,1355.9 753.4,1361.5 755.0,1366.1 756.7,1369.8 758.3,1374.1 759.9,1376.3 761.5,1379.0 763.1,1381.8 764.7,1382.5 766.3,1382.7 767.9,1383.2 769.6,1382.6 771.2,1388.6 772.8,1394.9 774.4,1399.6 776.0,1401.2 777.6,1401.8 779.2,1403.5 780.8,1403.2 782.5,1406.9 784.1,1411.0 785.7,1421.5 787.3,1425.2 788.9,1428.0 790.5,1428.3 792.1,1429.1 793.7,1430.0 795.4,1431.4 797.0,1432.9 798.6,1433.3 800.2,1434.6 801.8,1437.4 803.4,1440.0 805.0,1442.3 806.7,1447.8 808.3,1455.0 809.9,1462.2 811.5,1477.3 813.1,1483.7 814.7,1484.7 816.3,1485.0 817.9,1485.1 819.6,1485.4 821.2,1492.5 822.8,1501.3 824.4,1509.8 826.0,1511.1 827.6,1511.0 829.2,1511.1 830.8,1511.8 832.5,1516.0 834.1,1520.7 835.7,1523.9 837.3,1527.1 838.9,1524.8 840.5,1520.4 842.1,1518.3 843.7,1518.6 845.4,1518.1 847.0,1519.2 848.6,1524.5 850.2,1530.6 851.8,1539.8 853.4,1542.3 855.0,1545.2 856.7,1541.4 858.3,1533.8 859.9,1520.3 861.5,1516.2 863.1,1513.4 864.7,1513.4 866.3,1510.7 867.9,1508.3 869.6,1503.2 871.2,1497.0 872.8,1486.9 874.4,1483.3 876.0,1480.1 877.6,1479.1 879.2,1478.0 880.8,1477.4 882.5,1473.6 884.1,1469.7 885.7,1457.9 887.3,1449.0 888.9,1445.4 890.5,1445.9 892.1,1451.2 893.7,1458.2 895.4,1469.9 897.0,1469.9 898.6,1471.8 900.2,1467.6 901.8,1458.6 903.4,1446.6 905.0,1423.7 906.7,1407.6 908.3,1399.0 909.9,1396.7 911.5,1395.0 913.1,1394.7 914.7,1391.6 916.3,1389.8 917.9,1387.2 919.6,1379.1 921.2,1366.2 922.8,1349.4 924.4,1331.4 926.0,1314.2 927.6,1305.5 929.2,1299.2 930.8,1295.6 932.5,1292.0 934.1,1292.2 935.7,1295.7 937.3,1296.1 938.9,1299.5 940.5,1306.3 942.1,1322.0 943.7,1340.9 945.4,1360.1 947.0,1377.4 948.6,1392.2 950.2,1408.4 951.8,1418.7 953.4,1427.1 955.0,1436.7 956.7,1444.2 958.3,1451.8 959.9,1461.1 961.5,1466.7 963.1,1473.0 964.7,1479.6 966.3,1484.7 967.9,1491.4 969.6,1493.3 971.2,1495.5 972.8,1498.3 974.4,1499.7 976.0,1500.6 977.6,1502.2 979.2,1504.8 980.8,1506.3 982.5,1510.5 984.1,1514.4 985.7,1521.8 987.3,1526.3 988.9,1531.1 990.5,1533.6 992.1,1533.1 993.7,1532.4 995.4,1531.7 997.0,1530.7 998.6,1532.3 1000.2,1536.9 1001.8,1542.8 1003.4,1544.9 1005.0,1545.5 1006.7,1546.6 1008.3,1545.7 1009.9,1546.6 1011.5,1545.4 1013.1,1545.8 1014.7,1548.5 1016.3,1547.3 1017.9,1548.0 1019.6,1547.0 1021.2,1546.8 1022.8,1545.6 1024.4,1542.3 1026.0,1543.9 1027.6,1546.1 1029.2,1550.1 1030.8,1549.6 1032.5,1549.4 1034.1,1548.9 1035.7,1549.1 1037.3,1550.8 1038.9,1552.3 1040.5,1550.1 1042.1,1548.6 1043.7,1547.9 1045.4,1546.7 1047.0,1546.1 1048.6,1547.2 1050.2,1546.0 1051.8,1547.0 1053.4,1547.2 1055.0,1547.4 1056.7,1544.6 1058.3,1544.2 1059.9,1542.5 1061.5,1541.9 1063.1,1543.7 1064.7,1545.3 1066.3,1548.7 1067.9,1549.2 1069.6,1548.8 1071.2,1547.7 1072.8,1546.9 1074.4,1548.2 1076.0,1547.2 1077.6,1546.2 1079.2,1547.5 1080.8,1547.8 1082.5,1547.4 1084.1,1548.0 1085.7,1547.2 1087.3,1545.3 1088.9,1543.3 1090.5,1544.5 1092.1,1545.0 1093.7,1546.1 1095.4,1547.4 1097.0,1550.0 1098.6,1550.9 1100.2,1551.7 1101.8,1551.1 1103.4,1546.5 1105.0,1544.5 1106.7,1544.9 1108.3,1546.4 1109.9,1548.8 1111.5,1547.9 1113.1,1547.9 1114.7,1548.0 1116.3,1546.0 1117.9,1545.3 1119.6,1547.1 1121.2,1546.1 1122.8,1548.6 1124.4,1546.8 1126.0,1545.6 1127.6,1543.6 1129.2,1540.1 1130.8,1537.4 1132.5,1529.4 1134.1,1521.4 1135.7,1514.2 1137.3,1506.0 1138.9,1503.2 1140.5,1504.0 1142.1,1505.7 1143.7,1509.7 1145.4,1517.7 1147.0,1527.9 1148.6,1534.8 1150.2,1541.4 1151.8,1542.2 1153.4,1544.0 1155.0,1545.7 1156.7,1545.2 1158.3,1543.2 1159.9,1540.1 1161.5,1537.1 1163.1,1534.1 1164.7,1535.7 1166.3,1536.8 1167.9,1536.9 1169.6,1536.1 1171.2,1536.1 1172.8,1530.7 1174.4,1526.5 1176.0,1523.5 1177.6,1523.0 1179.2,1521.2 1180.8,1517.8 1182.5,1517.2 1184.1,1507.4 1185.7,1501.9 1187.3,1499.4 1188.9,1500.7 1190.5,1501.9 1192.1,1502.4 1193.7,1498.4 1195.4,1495.9 1197.0,1494.5 1198.6,1493.6 1200.2,1492.0 1201.8,1493.3 1203.4,1494.4 1205.0,1491.7 1206.7,1484.8 1208.3,1483.8 1209.9,1479.7 1211.5,1485.5 1213.1,1491.7 1214.7,1503.4 1216.3,1513.3 1217.9,1522.4 1219.6,1531.7 1221.2,1540.5 1222.8,1545.6 1224.4,1546.8 1226.0,1547.9 1227.6,1549.4 1229.2,1548.7 1230.8,1548.1 1232.5,1547.8 1234.1,1547.5 1235.7,1549.1 1237.3,1547.5 1238.9,1546.7 1240.5,1545.7 1242.1,1547.2 1243.7,1548.5 1245.4,1548.3 1247.0,1546.4 1248.6,1542.3 1250.2,1540.7 1251.8,1541.9 1253.4,1541.6 1255.0,1543.8 1256.7,1546.2 1258.3,1547.7 1259.9,1548.7 1261.5,1550.5 1263.1,1549.6 1264.7,1546.7 1266.3,1544.1 1267.9,1543.4 1269.6,1545.2 1271.2,1545.9 1272.8,1549.1 1274.4,1548.3 1276.0,1548.0 1277.6,1546.0 1279.2,1546.1 1280.8,1546.9 1282.5,1547.1 1284.1,1546.2 1285.7,1546.1 1287.3,1548.5 1288.9,1548.3 1290.5,1549.9 1292.1,1546.8 1293.7,1547.2 1295.4,1545.4 1297.0,1544.3 1298.6,1545.6 1300.2,1546.8 1301.8,1545.8 1303.4,1545.4 1305.0,1546.9 1306.7,1547.8 1308.3,1548.0 1309.9,1547.1 1311.5,1546.2 1313.1,1543.6 1314.7,1540.9 1316.3,1542.8 1317.9,1542.8 1319.6,1544.8 1321.2,1546.5 1322.8,1548.3 1324.4,1548.3 1326.0,1548.8 1327.6,1549.5 1329.2,1548.4 1330.8,1545.1 1332.5,1546.8 1334.1,1547.7 1335.7,1547.7 1337.3,1548.9 1338.9,1547.9 1340.5,1546.1 1342.1,1547.3 1343.7,1545.5 1345.4,1545.9 1347.0,1547.5 1348.6,1549.2 1350.2,1549.5 1351.8,1549.5 1353.4,1547.3 1355.0,1547.0 1356.7,1550.5 1358.3,1551.6 1359.9,1554.7 1361.5,1554.3 1363.1,1554.2 1364.7,1550.9 1366.3,1550.2 1367.9,1547.7 1369.6,1547.2 1371.2,1546.3 1372.8,1547.9 1374.4,1546.9 1376.0,1546.8 1377.6,1547.0 1379.2,1546.9 1380.8,1548.1 1382.5,1547.1 1384.1,1547.3 1385.7,1549.4 1387.3,1547.2 1388.9,1547.6 1390.5,1544.8 1392.1,1546.0 1393.7,1545.7 1395.4,1547.1 1397.0,1547.3 1398.6,1547.9 1400.2,1546.3 1401.8,1546.9 1403.4,1548.0 1405.0,1547.8 1406.7,1547.8 1408.3,1547.2 1409.9,1547.5 1411.5,1546.6 1413.1,1546.1 1414.7,1546.5 1416.3,1544.7 1417.9,1545.0 1419.6,1548.9 1421.2,1549.0 1422.8,1552.2 1424.4,1550.0 1426.0,1550.4 1427.6,1548.6 1429.2,1548.2 1430.8,1546.7 1432.5,1546.9 1434.1,1545.8 1435.7,1546.5 1437.3,1546.2 1438.9,1549.2 1440.5,1550.4 1442.1,1551.9 1443.7,1548.3 1445.4,1547.3 1447.0,1547.2 1448.6,1546.7 1450.2,1549.0 1451.8,1549.0 1453.4,1542.3 1455.0,1537.0 1456.7,1533.7 1458.3,1529.4 1459.9,1527.8 1461.5,1525.1 1463.1,1523.4 1464.7,1522.3 1466.3,1523.0 1467.9,1525.2 1469.6,1525.8 1471.2,1522.8 1472.8,1517.4 1474.4,1512.9 1476.0,1509.3 1477.6,1504.9 1479.2,1507.9 1480.8,1508.8 1482.5,1509.0 1484.1,1509.7 1485.7,1507.2 1487.3,1500.2 1488.9,1497.5 1490.5,1495.7 1492.1,1500.6 1493.7,1505.5 1495.4,1516.9 1497.0,1526.7 1498.6,1535.3 1500.2,1539.4 1501.8,1545.3 1503.4,1545.5 1505.0,1547.3 1506.7,1549.2 1508.3,1548.6 1509.9,1546.9 1511.5,1545.2 1513.1,1545.5 1514.7,1548.4 1516.3,1549.2 1517.9,1550.7 1519.6,1549.2 1521.2,1547.9 1522.8,1546.2 1524.4,1545.1 1526.0,1544.7 1527.6,1545.6 1529.2,1545.4 1530.8,1547.1 1532.5,1548.8 1534.1,1550.8 1535.7,1550.5 1537.3,1549.0 1538.9,1546.2 1540.5,1544.9 1542.1,1547.2 1543.7,1547.0 1545.4,1548.3 1547.0,1547.8 1548.6,1548.9 1550.2,1547.2 1551.8,1546.6 1553.4,1545.6 1555.0,1546.4 1556.7,1545.5 1558.3,1546.7 1559.9,1545.9 1561.5,1546.8 1563.1,1547.2 1564.7,1545.3 1566.3,1545.4 1567.9,1546.3 1569.6,1545.6 1571.2,1545.4 1572.8,1545.0 1574.4,1546.2 1576.0,1547.8 1577.6,1551.3 1579.2,1549.0 1580.8,1549.9 1582.5,1548.7 1584.1,1547.8 1585.7,1547.8 1587.3,1548.6 1588.9,1548.9 1590.5,1549.5 1592.1,1548.0 1593.7,1546.7 1595.4,1544.7 1597.0,1543.8 1598.6,1545.0 1600.2,1544.6 1601.8,1546.9 1603.4,1547.3 1605.0,1547.4 1606.7,1548.9 1608.3,1549.1 1609.9,1549.1 1611.5,1546.9 1613.1,1546.7 1614.7,1546.3 1616.3,1545.6 1617.9,1544.2 1619.6,1543.7 1621.2,1542.4 1622.8,1543.0 1624.4,1543.4 1626.0,1542.1 1627.6,1545.7 1629.2,1547.7 1630.8,1549.6 1632.5,1551.5 1634.1,1552.7 1635.7,1549.5 1637.3,1549.4 1638.9,1548.2 1640.5,1548.7 1642.1,1546.7 1643.7,1546.1 1645.4,1548.0 1647.0,1546.5 1648.6,1546.6 1650.2,1545.8 1651.8,1545.9 1653.4,1547.8 1655.0,1551.3 1656.7,1552.4 1658.3,1554.6 1659.9,1552.5 1661.5,1548.0 1663.1,1544.5 1664.7,1547.5 1666.3,1548.0 1667.9,1548.8 1669.6,1549.6 1671.2,1549.8 1672.8,1551.2 1674.4,1551.6 1676.0,1550.4 1677.6,1549.7 1679.2,1548.6 1680.8,1548.3 1682.5,1548.8 1684.1,1548.6 1685.7,1547.6 1687.3,1548.0 1688.9,1547.1 1690.5,1548.0 1692.1,1548.6 1693.7,1547.7 1695.4,1548.6 1697.0,1547.4 1698.6,1546.3 1700.2,1545.6 1701.8,1545.1 1703.4,1543.9 1705.0,1543.1 1706.7,1544.7 1708.3,1545.6 1709.9,1546.8 1711.5,1546.9 1713.1,1547.2 1714.7,1548.0 1716.3,1547.2 1717.9,1548.4 1719.6,1548.7 1721.2,1548.3 1722.8,1547.7 1724.4,1549.2 1726.0,1549.5 1727.6,1549.8 1729.2,1550.6 1730.8,1550.2 1732.5,1549.1 1734.1,1549.4 1735.7,1547.5 1737.3,1544.5 1738.9,1544.2 1740.5,1544.9 1742.1,1543.6 1743.7,1545.4 1745.4,1545.9 1747.0,1545.0 1748.6,1546.5 1750.2,1547.9 1751.8,1549.0 1753.4,1548.5 1755.0,1548.4 1756.7,1549.4 1758.3,1548.5 1759.9,1547.6 1761.5,1546.8 1763.1,1545.5 1764.7,1549.1 1766.3,1549.8 1767.9,1550.7 1769.6,1550.8 1771.2,1551.2 1772.8,1548.9 1774.4,1549.7 1776.0,1548.9 1777.6,1546.5 1779.2,1547.4 1780.8,1546.0 1782.5,1545.4 1784.1,1546.3 1785.7,1545.1 1787.3,1546.9 1788.9,1549.3 1790.5,1548.4 1792.1,1550.8 1793.7,1551.0 1795.4,1551.4 1797.0,1549.3 1798.6,1547.2 1800.2,1543.6 1801.8,1542.1 1803.4,1541.3 1805.0,1540.5 1806.7,1543.0 1808.3,1546.4 1809.9,1550.3 1811.5,1548.5 1813.1,1548.5 1814.7,1547.8 1816.3,1548.7 1817.9,1547.2 1819.6,1546.3 1821.2,1546.7 1822.8,1548.1 1824.4,1548.9 1826.0,1550.6 1827.6,1550.5 1829.2,1552.2 1830.8,1549.2 1832.5,1549.5 1834.1,1548.1 1835.7,1547.6 1837.3,1550.3 1838.9,1554.2 1840.5,1555.0 1842.1,1555.3 1843.7,1552.0 1845.4,1549.5 1847.0,1548.5 1848.6,1550.6 1850.2,1554.3 1851.8,1551.2 1853.4,1548.5 1855.0,1546.8 1856.7,1546.7 1858.3,1547.8 1859.9,1548.6 1861.5,1549.9 1863.1,1549.7 1864.7,1550.1 1866.3,1548.5 1867.9,1547.7 1869.6,1545.1 1871.2,1544.0 1872.8,1543.9 1874.4,1544.4 1876.0,1545.2 1877.6,1545.6 1879.2,1547.3 1880.8,1547.3 1882.5,1547.1 1884.1,1547.9 1885.7,1545.8 1887.3,1545.9 1888.9,1547.2 1890.5,1545.2 1892.1,1543.9 1893.7,1543.6 1895.4,1542.7 1897.0,1544.4 1898.6,1543.4 1900.2,1544.1 1901.8,1545.2 1903.4,1548.1 1905.0,1548.6 1906.7,1550.0 1908.3,1549.1 1909.9,1549.5 1911.5,1550.0 1913.1,1549.3 1914.7,1547.4 1916.3,1545.0 1917.9,1544.5 1919.6,1546.0 1921.2,1545.8 1922.8,1546.3 1924.4,1546.3 1926.0,1549.3 1927.6,1547.9 1929.2,1548.9 1930.8,1550.7 1932.5,1552.9 1934.1,1550.9 1935.7,1549.6 1937.3,1546.6 1938.9,1543.0 1940.5,1544.2 1942.1,1545.0 1943.7,1547.4 1945.4,1547.2 1947.0,1546.2 1948.6,1545.0 1950.2,1544.2 1951.8,1545.0 1953.4,1546.3 1955.0,1545.8 1956.7,1546.4 1958.3,1547.3 1959.9,1548.4 1961.5,1548.6 1963.1,1547.5 1964.7,1547.8 1966.3,1548.4 1967.9,1548.4 1969.6,1548.4 1971.2,1547.8 1972.8,1548.1 1974.4,1546.8 1976.0,1548.1 1977.6,1547.8 1979.2,1549.6 1980.8,1547.7 1982.5,1546.4 1984.1,1543.6 1985.7,1544.0 1987.3,1546.6 1988.9,1546.7 1990.5,1550.2 1992.1,1551.4 1993.7,1553.7 1995.4,1552.5 1997.0,1550.6 1998.6,1548.5 2000.2,1546.6 2001.8,1547.4 2003.4,1546.1 2005.0,1546.7 2006.7,1546.2 2008.3,1548.0 2009.9,1547.5 2011.5,1549.9 2013.1,1549.6 2014.7,1548.6 2016.3,1546.6 2017.9,1547.5 2019.6,1548.4 2021.2,1547.5 2022.8,1550.0 2024.4,1549.0 2026.0,1549.2 2027.6,1549.7 2029.2,1547.4 2030.8,1548.0 2032.5,1546.7 2034.1,1547.0 2035.7,1544.4 2037.3,1543.9 2038.9,1541.8 2040.5,1542.0 2042.1,1542.0 2043.7,1541.7 2045.4,1543.0 2047.0,1545.0 2048.6,1545.3 2050.2,1546.0 2051.8,1546.9 2053.4,1547.7 2055.0,1550.8 2056.7,1551.3 2058.3,1552.1 2059.9,1552.1 2061.5,1551.3 2063.1,1548.9 2064.7,1545.3 2066.3,1546.0 2067.9,1548.4 2069.6,1547.7 2071.2,1547.7 2072.8,1547.1 2074.4,1546.9 2076.0,1547.7 2077.6,1551.4 2079.2,1553.2 2080.8,1552.1 2082.5,1549.5 2084.1,1549.2 2085.7,1547.2 2087.3,1547.5 2088.9,1549.8 2090.5,1550.2 2092.1,1551.8 2093.7,1552.0 2095.4,1550.8 2097.0,1549.9 2098.6,1548.7 2100.2,1547.5 2101.8,1547.2 2103.4,1547.2 2105.0,1547.5 2106.7,1545.2 2108.3,1546.6 2109.9,1545.3 2111.5,1546.3 2113.1,1546.3 2114.7,1548.5 2116.3,1548.5 2117.9,1548.3 2119.6,1550.3 2121.2,1550.6 2122.8,1551.3 2124.4,1551.8 2126.0,1551.5 2127.6,1550.7 2129.2,1547.5 2130.8,1546.3 2132.5,1548.2 2134.1,1548.3 2135.7,1548.6 2137.3,1547.9 2138.9,1546.7 2140.5,1546.7 2142.1,1547.2 2143.7,1548.3 2145.4,1548.0 2147.0,1548.3 2148.6,1549.6 2150.2,1550.3 2151.8,1551.7 2153.4,1550.5 2155.0,1550.9 2156.7,1548.9 2158.3,1547.7 2159.9,1546.4 2161.5,1544.8 2163.1,1541.7 2164.7,1540.0 2166.3,1543.2 2167.9,1547.8 2169.6,1551.3 2171.2,1553.6 2172.8,1552.3 2174.4,1550.7 2176.0,1547.9 2177.6,1547.6 2179.2,1549.9 2180.8,1552.3 2182.5,1553.9 2184.1,1551.5 2185.7,1549.3 2187.3,1548.8 2188.9,1548.0 2190.5,1547.0 2192.1,1548.5 2193.7,1548.1 2195.4,1548.6 2197.0,1549.4 2198.6,1546.8 2200.2,1548.5 2201.8,1546.2 2203.4,1545.5 2205.0,1545.5 2206.7,1546.3 2208.3,1545.4 2209.9,1545.6 2211.5,1548.3 2213.1,1549.0 2214.7,1550.9 2216.3,1552.8 2217.9,1555.0 2219.6,1553.0 2221.2,1551.4 2222.8,1547.5 2224.4,1545.4 2226.0,1544.9 2227.6,1547.6 2229.2,1547.7 2230.8,1547.4 2232.5,1546.5 2234.1,1546.8 2235.7,1546.8 2237.3,1546.8 2238.9,1545.8 2240.5,1543.4 2242.1,1543.6 2243.7,1545.2 2245.4,1549.8 2247.0,1550.8 2248.6,1554.5 2250.2,1554.4 2251.8,1552.2 2253.4,1550.3 2255.0,1548.4 2256.7,1547.3 2258.3,1548.3 2259.9,1548.6 2261.5,1547.8 2263.1,1546.7 2264.7,1547.9 2266.3,1547.3 2267.9,1547.6 2269.6,1546.5 2271.2,1546.5 2272.8,1544.9 2274.4,1544.9 2276.0,1546.6 2277.6,1550.6 2279.2,1550.9 2280.8,1547.9 2282.5,1547.2 2284.1,1544.1 2285.7,1543.8 2287.3,1544.6 2288.9,1545.9 2290.5,1548.3 2292.1,1548.9 2293.7,1550.7 2295.4,1549.8 2297.0,1548.3 2298.6,1546.9 2300.2,1547.0 2301.8,1547.0 2303.4,1546.6 2305.0,1547.4 2306.7,1548.1 2308.3,1547.5 2309.9,1548.2 2311.5,1547.8 2313.1,1548.7 2314.7,1548.6 2316.3,1548.6 2317.9,1550.5 2319.6,1550.0 2321.2,1548.7 2322.8,1547.8 2324.4,1546.4 2326.0,1545.8 2327.6,1546.5 2329.2,1548.1 2330.8,1550.0 2332.5,1551.0 2334.1,1551.9 2335.7,1551.5 2337.3,1552.6 2338.9,1551.8 2340.5,1551.5 2342.1,1551.0 2343.7,1548.2 2345.4,1547.2 2347.0,1547.0 2348.6,1546.0 2350.2,1545.5 2351.8,1546.6 2353.4,1550.2 2355.0,1552.6 2356.7,1557.1 2358.3,1554.3 2359.9,1551.5 2361.5,1549.1 2363.1,1548.5 2364.7,1548.1 2366.3,1546.4 2367.9,1545.6 2369.6,1547.6 2371.2,1547.9 2372.8,1551.0 2374.4,1550.2 2376.0,1549.5 2377.6,1547.8 2379.2,1548.3 2380.8,1547.7 2382.5,1547.0 2384.1,1546.4 2385.7,1545.1 2387.3,1544.0 2388.9,1543.5 2390.5,1544.5 2392.1,1546.6 2393.7,1547.5 2395.4,1549.5 2397.0,1546.9 2398.6,1544.5 2400.2,1542.7 2401.8,1543.8 2403.4,1545.4 2405.0,1547.6 2406.7,1548.8 2408.3,1551.7 2409.9,1552.1 2411.5,1551.6 2413.1,1547.4 2414.7,1544.7 2416.3,1546.7 2417.9,1546.4 2419.6,1546.3 2421.2,1548.2 2422.8,1548.5 2424.4,1547.6 2426.0,1548.8 2427.6,1548.4 2429.2,1547.3 2430.8,1546.5 2432.5,1546.7 2434.1,1549.2 2435.7,1549.2 2437.3,1550.8 2438.9,1550.7 2440.5,1550.7 2442.1,1550.3 2443.7,1548.7 2445.4,1546.4 2447.0,1547.3 2448.6,1549.8 2450.2,1551.2 2451.8,1550.8 2453.4,1547.9 2455.0,1548.3 2456.7,1550.7 2458.3,1549.4 2459.9,1548.6 2461.5,1547.2 2463.1,1546.7 2464.7,1544.9 2466.3,1545.3 2467.9,1546.7 2469.6,1548.6 2471.2,1545.9 2472.8,1543.8 2474.4,1543.4 2476.0,1542.2 2477.6,1548.2 2479.2,1551.7 2480.8,1549.7 2482.5,1547.0 2484.1,1542.2 2485.7,1539.9 2487.3,1541.3 2488.9,1545.2 2490.5,1547.7 2492.1,1549.8 2493.7,1548.8 2495.4,1549.5 2497.0,1549.4 2498.6,1549.2 2500.2,1549.9 2501.8,1546.9 2503.4,1546.6 2505.0,1545.7 2506.7,1544.3 2508.3,1545.4 2509.9,1546.5 2511.5,1548.9 2513.1,1547.4 2514.7,1547.0 2516.3,1546.0 2517.9,1545.5 2519.6,1546.6 2521.2,1546.4 2522.8,1547.7 2524.4,1547.4 2526.0,1549.1 2527.6,1550.0 2529.2,1549.0 2530.8,1551.7 2532.5,1550.3 2534.1,1552.0 2535.7,1551.8 2537.3,1551.2 2538.9,1548.5 2540.5,1547.6 2542.1,1546.3 2543.7,1545.2 2545.4,1547.9 2547.0,1549.4 2548.6,1550.2 2550.2,1549.3 2551.8,1548.5 2553.4,1549.3 2555.0,1547.8 2556.7,1548.2 2558.3,1546.4 2559.9,1547.5 2561.5,1545.8 2563.1,1545.9 2564.7,1545.2 2566.3,1546.9 2567.9,1546.8 2569.6,1545.5 2571.2,1545.1 2572.8,1546.9 2574.4,1547.5 2576.0,1548.6 2577.6,1551.2 2579.2,1552.3 2580.8,1551.4 2582.5,1549.6 2584.1,1548.9 2585.7,1547.8 2587.3,1550.5 2588.9,1550.0"/>
</g></g>
<rect class="ax" x="40.60" y="31.10" width="2368.70" height="1594.90"/>
<path class="tk" d="M40.60 1626.00V1648.50M119.56 1626.00V1637.70M198.51 1626.00V1648.50M277.47 1626.00V1637.70M356.43 1626.00V1648.50M435.38 1626.00V1637.70M514.34 1626.00V1648.50M593.30 1626.00V1637.70M672.25 1626.00V1648.50M751.21 1626.00V1637.70M830.17 1626.00V1648.50M909.12 1626.00V1637.70M988.08 1626.00V1648.50M1067.04 1626.00V1637.70M1145.99 1626.00V1648.50M1224.95 1626.00V1637.70M1303.91 1626.00V1648.50M1382.86 1626.00V1637.70M1461.82 1626.00V1648.50M1540.78 1626.00V1637.70M1619.73 1626.00V1648.50M1698.69 1626.00V1637.70M1777.65 1626.00V1648.50M1856.60 1626.00V1637.70M1935.56 1626.00V1648.50M2014.52 1626.00V1637.70M2093.47 1626.00V1648.50M2172.43 1626.00V1637.70M2251.39 1626.00V1648.50M2330.34 1626.00V1637.70M2409.30 1626.00V1648.50"/>
<text class="tick" transform="translate(40.6 1706.3) scale(1 1.03)">0</text>
<text class="tick" transform="translate(198.5 1706.3) scale(1 1.03)">20</text>
<text class="tick" transform="translate(356.4 1706.3) scale(1 1.03)">40</text>
<text class="tick" transform="translate(514.3 1706.3) scale(1 1.03)">60</text>
<text class="tick" transform="translate(672.3 1706.3) scale(1 1.03)">80</text>
<text class="tick" transform="translate(830.2 1706.3) scale(1 1.03)">100</text>
<text class="tick" transform="translate(988.1 1706.3) scale(1 1.03)">120</text>
<text class="tick" transform="translate(1146.0 1706.3) scale(1 1.03)">140</text>
<text class="tick" transform="translate(1303.9 1706.3) scale(1 1.03)">160</text>
<text class="tick" transform="translate(1461.8 1706.3) scale(1 1.03)">180</text>
<text class="tick" transform="translate(1619.7 1706.3) scale(1 1.03)">200</text>
<text class="tick" transform="translate(1777.6 1706.3) scale(1 1.03)">220</text>
<text class="tick" transform="translate(1935.6 1706.3) scale(1 1.03)">240</text>
<text class="tick" transform="translate(2093.5 1706.3) scale(1 1.03)">260</text>
<text class="tick" transform="translate(2251.4 1706.3) scale(1 1.03)">280</text>
<text class="tick" transform="translate(2409.3 1706.3) scale(1 1.03)">300</text>
<text class="xl" x="1225.4" y="1797.7">ppm</text>
<text class="pk" transform="translate(201.4 261.1) rotate(-90) scale(0.960 1.000)">20.08</text>
<text class="pk" transform="translate(455.8 251.2) rotate(-90) scale(0.960 1.000)">55.11</text>
<text class="pk" transform="translate(548.8 258.9) rotate(-90) scale(0.960 1.000)">64.36</text>
<text class="pk" transform="translate(630.4 257.7) rotate(-90) scale(0.960 1.000)">71.86</text>
<text class="pk" transform="translate(699.2 251.4) rotate(-90) scale(0.960 1.000)">83.19</text>
<text class="pk" transform="translate(763.0 255.9) rotate(-90) scale(0.960 1.000)">88.37</text>
<text class="pk" transform="translate(874.6 268.8) rotate(-90) scale(0.960 1.000)">104.79</text>
<text class="pk" transform="translate(1079.2 271.2) rotate(-90) scale(0.960 1.000)">132.95</text>
<text class="pk" transform="translate(1261.1 267.9) rotate(-90) scale(0.960 1.000)">153,42</text>
<text class="pk" transform="translate(1424.0 269.1) rotate(-90) scale(0.960 1.000)">170.40</text>
<text class="pk" transform="translate(202.8 923.4) rotate(-90) scale(0.960 1.000)">16.16</text>
<text class="pk" transform="translate(248.2 916.6) rotate(-90) scale(0.960 1.000)">21.41</text>
<text class="pk" transform="translate(565.4 908.1) rotate(-90) scale(0.960 1.000)">63.68</text>
<text class="pk" transform="translate(653.2 904.3) rotate(-90) scale(0.960 1.000)">73.55</text>
<text class="pk" transform="translate(907.0 921.8) rotate(-90) scale(0.960 1.000)">104.79</text>
<text class="pk" transform="translate(1071.2 923.7) rotate(-90) scale(0.960 1.000)">129.10</text>
<text class="pk" transform="translate(1140.4 920.8) rotate(-90) scale(0.960 1.000)">137.32</text>
<text class="pk" transform="translate(1401.4 918.4) rotate(-90) scale(0.960 1.000)">170.40</text>
<rect x="1868" y="38" width="533.2" height="83.8" fill="#fff" stroke="#000" stroke-width="2.2"/>
<line x1="1876.5" y1="78.7" x2="1995" y2="78.7" stroke="#ff0000" stroke-width="9" stroke-linecap="round" shape-rendering="crispEdges"/>
<text class="lg" x="2010" y="100.4">Modified wood</text>
<rect x="1825.8" y="856.3" width="574" height="83.6" fill="#fff" stroke="#000" stroke-width="2.2"/>
<line x1="1835.5" y1="896.2" x2="1953.2" y2="896.2" stroke="#000" stroke-width="9" stroke-linecap="round" shape-rendering="crispEdges"/>
<text class="lg" x="1982.3" y="917.8" style="font-size:59.75px">Untreated wood</text>
</svg></body></html>
